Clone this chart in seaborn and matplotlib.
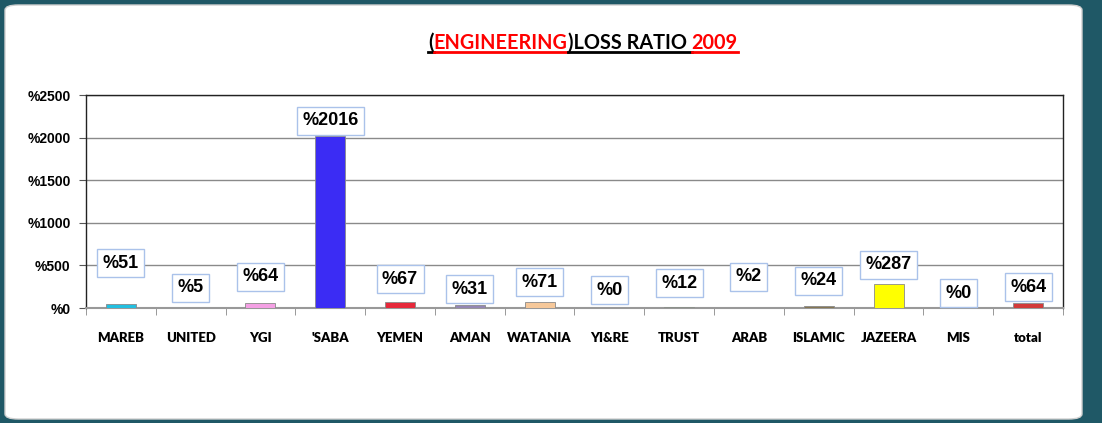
import matplotlib
matplotlib.use("Agg")
import matplotlib.pyplot as plt
import seaborn as sns
import pandas as pd
import numpy as np
from matplotlib.patches import FancyBboxPatch
from matplotlib.lines import Line2D

categories = ["MAREB", "UNITED", "YGI", "'SABA", "YEMEN", "AMAN", "WATANIA", "YI&RE",
              "TRUST", "ARAB", "ISLAMIC", "JAZEERA", "MIS", "total"]
loss_ratio = [51, 5, 64, 2016, 67, 31, 71, 0, 12, 2, 24, 287, 0, 64]
y_ticks = [0, 500, 1000, 1500, 2000, 2500]

# label box centres (data units), manually placed as in the original
label_y = [528, 235, 364, 2195, 340, 223, 305, 211, 293, 364, 317, 505, 176, 246]
bar_colors = ["#22bfe0", "#2e7d5a", "#f4a0e4", "#3b2cf4", "#e6283a", "#9486b4", "#f6c89a",
              "#cccccc", "#92d07e", "#b0703c", "#857652", "#ffff00", "#cccccc", "#d23a3a"]

narrow = "Lato"

df = pd.DataFrame({"company": categories, "ratio": loss_ratio})

fig = plt.figure(figsize=(11.02, 4.23), dpi=100)
fig.patch.set_facecolor("#1f5866")
panel = FancyBboxPatch((5 / 1102, 4 / 423), 1077 / 1102, 414 / 423,
                       boxstyle="round,pad=0,rounding_size=0.012",
                       transform=fig.transFigure, facecolor="white",
                       edgecolor="#d0d0d0", linewidth=1, zorder=-10)
fig.patches.append(panel)

ax = fig.add_axes([86 / 1102, 1 - 308 / 423, (1063 - 86) / 1102, (308 - 95) / 423])
ax.set_facecolor("white")
ax.set_zorder(2)

sns.barplot(data=df, x="company", y="ratio", hue="company",
            palette=dict(zip(categories, bar_colors)), legend=False, saturation=1,
            width=0.43, ax=ax, edgecolor="#8a8a8a", linewidth=0.6, zorder=3)

ax.set_ylim(0, 2500)
ax.set_xlim(-0.5, len(categories) - 0.5)
ax.set_yticks(y_ticks)
ax.set_yticklabels([f"%{v}" for v in y_ticks], fontsize=10, fontweight="bold",
                   family="Liberation Sans")
ax.yaxis.grid(True, color="#8a8a8a", linewidth=1, zorder=0)
ax.set_axisbelow(True)
ax.set_xlabel("")
ax.set_ylabel("")
ax.set_xticks(range(len(categories)))
ax.set_xticklabels(categories, fontsize=9.5, fontweight="heavy", family=narrow)
ax.tick_params(axis="x", length=0, pad=17)
ax.set_xticks(np.arange(-0.5, len(categories), 1), minor=True)
ax.tick_params(axis="x", which="minor", length=5, color="#888888", direction="out")
ax.tick_params(axis="y", length=5, color="#555555", pad=6)
for s in ["top", "right", "left"]:
    ax.spines[s].set_color("#222222")
    ax.spines[s].set_linewidth(1)
ax.spines["bottom"].set_color("#999999")
ax.spines["bottom"].set_linewidth(1.5)

for i, (v, ly) in enumerate(zip(loss_ratio, label_y)):
    ax.text(i, ly, f"%{v}", ha="center", va="center", fontsize=13, fontweight="bold",
            family="Liberation Sans", zorder=5,
            bbox=dict(boxstyle="square,pad=0.3", facecolor="white",
                      edgecolor="#aac2ea", linewidth=1))

# title pieces
pieces = [("(", "black"), ("ENGINEERING", "#ff0000"), (")LOSS RATIO ", "black"), ("2009", "#ff0000")]
renderer = fig.canvas.get_renderer()


def measure(size):
    ws = []
    for txt, col in pieces:
        t = fig.text(0, 0, txt, fontsize=size, fontweight="bold", family=narrow)
        ws.append(t.get_window_extent(renderer).width)
        t.remove()
    return ws


base = 15
size = base * 309 / sum(measure(base))
widths = measure(size)
total_w = sum(widths)
cx = 583
x = cx - total_w / 2
ty = 423 - 49
for (txt, col), w in zip(pieces, widths):
    fig.text(x / 1102, ty / 423, txt, color=col, ha="left", va="baseline",
             fontsize=size, fontweight="bold", family=narrow)
    ucol = "#ff0000" if col != "black" else "black"
    fig.lines.append(Line2D([x / 1102, (x + w) / 1102], [(ty - 3) / 423, (ty - 3) / 423],
                            transform=fig.transFigure, color=ucol, linewidth=2))
    x += w

fig.savefig("out.png", dpi=100, facecolor=fig.get_facecolor())
